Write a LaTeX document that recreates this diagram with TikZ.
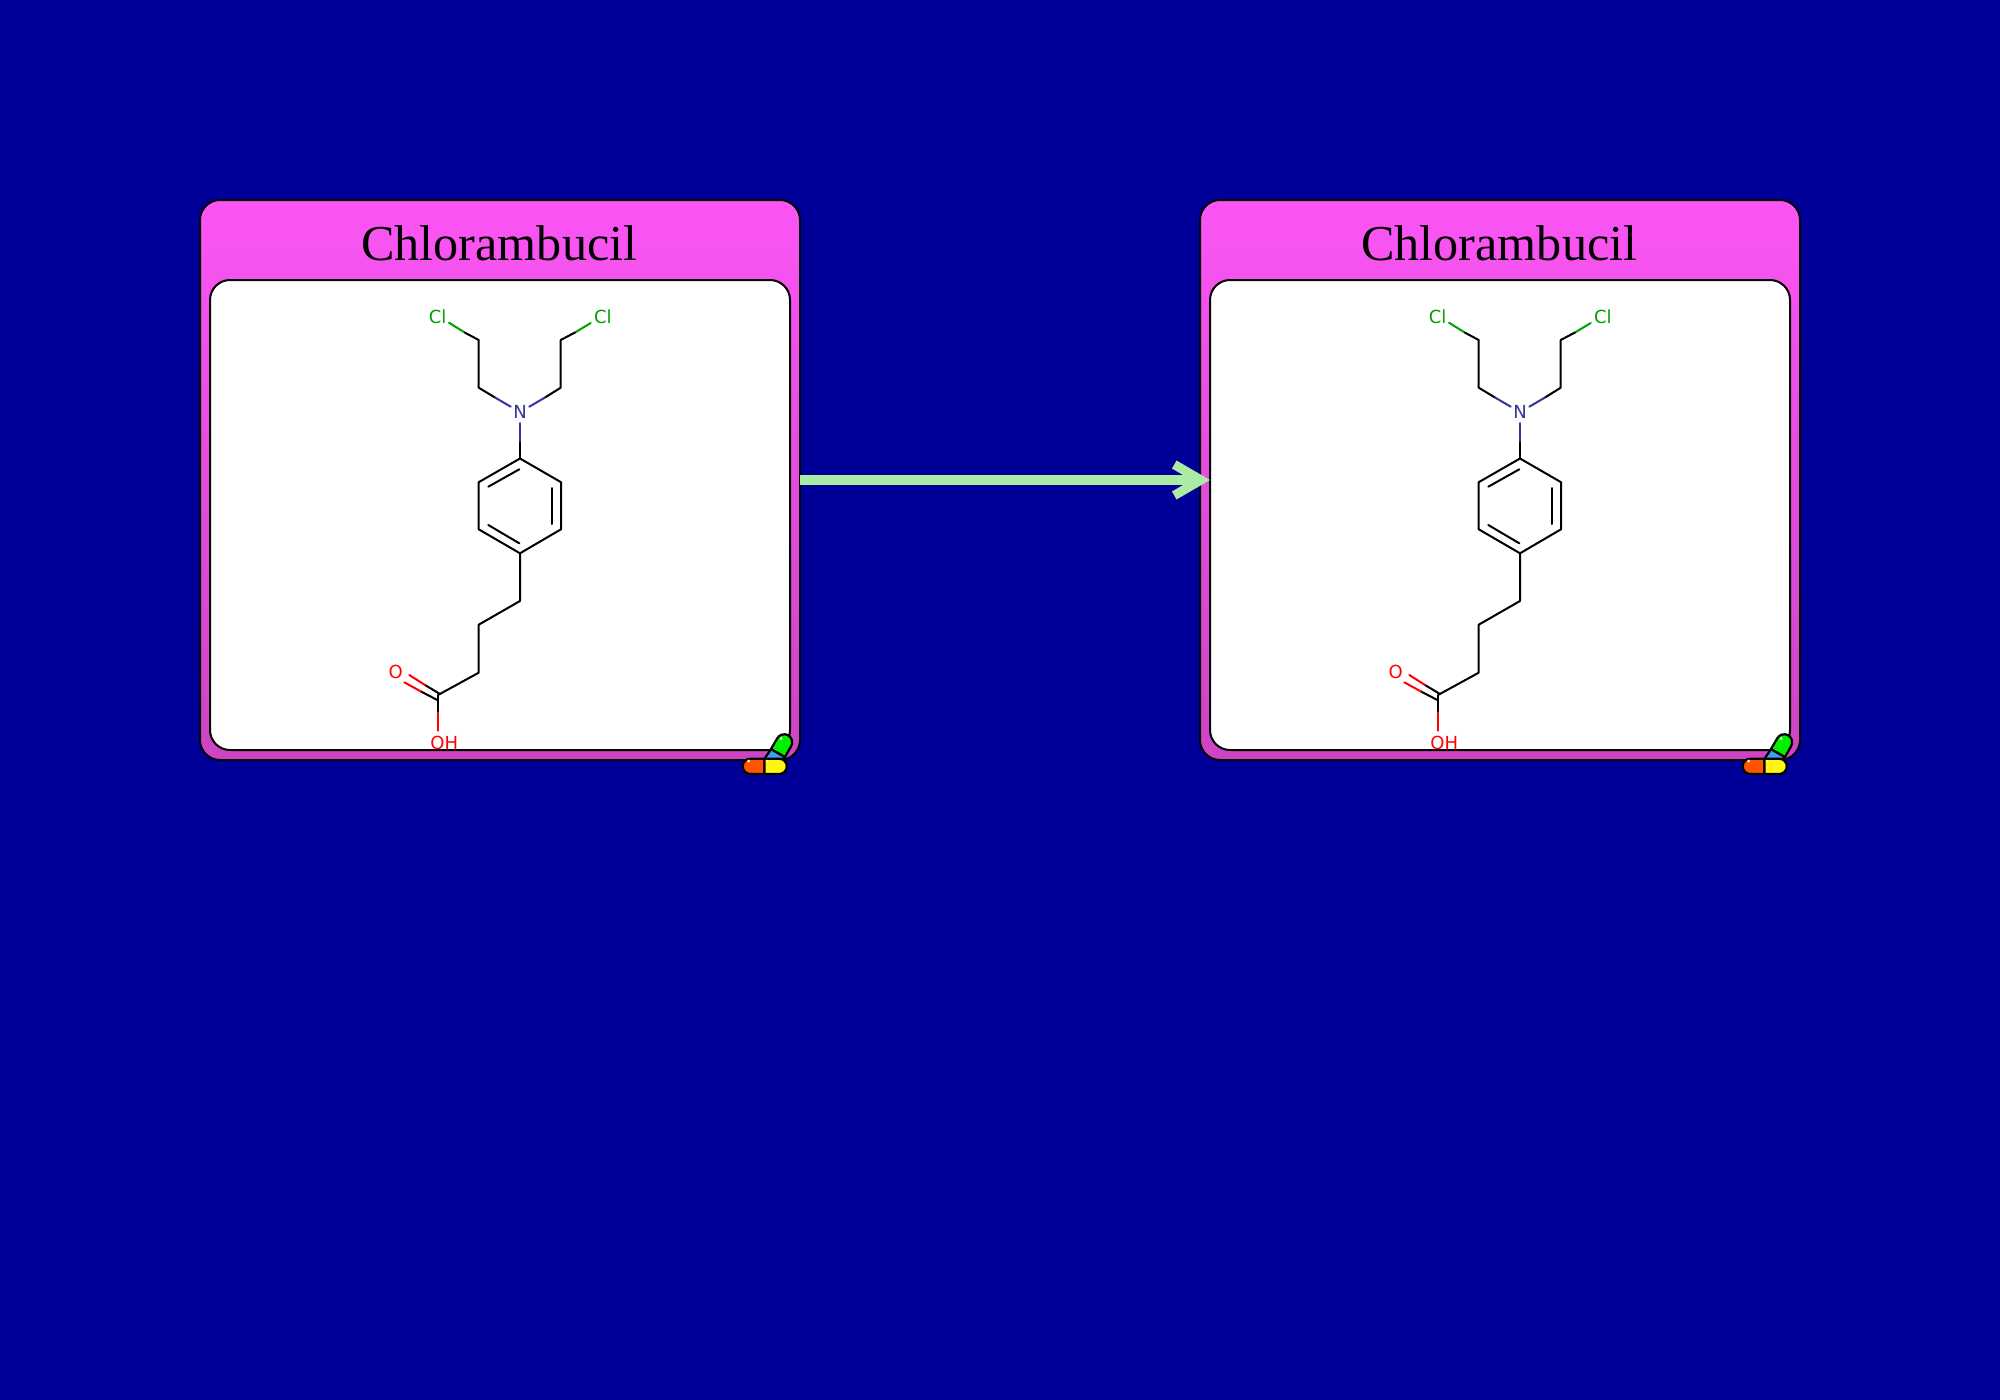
\documentclass[tikz,border=0pt]{standalone}
\usepackage{fontspec}
\setmainfont{Liberation Serif}
\newfontfamily\atomfont{DejaVu Sans}
\usetikzlibrary{arrows.meta}
\definecolor{bgblue}{RGB}{0,0,153}
\definecolor{cardtop}{RGB}{251,85,245}
\definecolor{cardbottom}{RGB}{204,68,196}
\definecolor{arrowgreen}{RGB}{170,235,165}
\definecolor{clgreen}{RGB}{0,160,0}
\definecolor{nblue}{RGB}{51,51,153}
\definecolor{pillred}{RGB}{255,85,0}
\definecolor{pillyellow}{RGB}{255,245,20}
\definecolor{pillgreen}{RGB}{0,240,0}
\definecolor{pillblue}{RGB}{60,160,230}
\pgfdeclarearrow{
  name=Chev,
  setup code={
    \pgfarrowssettipend{0pt}
    \pgfarrowssetlineend{-25pt}
    \pgfarrowssetvisualbackend{-25pt}
    \pgfarrowssetbackend{-38pt}
  },
  drawing code={
    \pgfsetfillcolor{pgfstrokecolor}
    \pgfpathmoveto{\pgfqpoint{0pt}{0pt}}
    \pgfpathlineto{\pgfqpoint{-33.5pt}{19.5pt}}
    \pgfpathlineto{\pgfqpoint{-38pt}{11.5pt}}
    \pgfpathlineto{\pgfqpoint{-27pt}{5pt}}
    \pgfpathlineto{\pgfqpoint{-27pt}{-5pt}}
    \pgfpathlineto{\pgfqpoint{-38pt}{-11.5pt}}
    \pgfpathlineto{\pgfqpoint{-33.5pt}{-19.5pt}}
    \pgfpathclose
    \pgfusepathqfill
  }
}
\tikzset{
  card/.style={draw=black,line width=2pt,rounded corners=20pt,top color=cardtop,bottom color=cardbottom,
    minimum width=600pt,minimum height=560pt,anchor=north west,inner sep=0pt,outer sep=0pt},
  panel/.style={draw=black,line width=2pt,rounded corners=20pt,fill=white,
    minimum width=580pt,minimum height=470pt,anchor=north west,inner sep=0pt,outer sep=0pt},
  titletext/.style={font=\fontsize{50.2pt}{50pt}\selectfont,text=black,anchor=base,inner sep=0pt},
  atom/.style={font=\atomfont\fontsize{18pt}{18pt}\selectfont,inner sep=0pt},
  bond/.style={line width=2pt,line cap=round,line join=round,draw=black},
  flow/.style={line width=10pt,draw=arrowgreen,-{Chev}},
  pilledge/.style={draw=black,line width=2.2pt,line join=round},
  gleam/.style={fill=white,draw=none}
}
\newcommand{\drawcard}[2]{%
\begin{scope}[shift={(#1,0)}]
  \node[card] (card#2) at (200,200) {};
  \node[panel] (panel#2) at (210,280) {};
  \node[titletext] (title#2) at (499.3,260) {Chlorambucil};
  % chains
  \draw[bond,clgreen] (449,322.7) -- (465,332.7);
  \draw[bond] (465,332.7) -- (478.7,340) -- (478.7,387.7) -- (495,397.5);
  \draw[bond,nblue] (495,397.5) -- (510.7,406.7);
  \draw[bond,clgreen] (590.7,323) -- (575,332.5);
  \draw[bond] (575,332.5) -- (560.7,340) -- (560.7,387.7) -- (545,397.5);
  \draw[bond,nblue] (545,397.5) -- (529.3,406.7);
  \draw[bond,nblue] (520,423) -- (520,442.7);
  \draw[bond] (520,442.7) -- (520,458.5);
  % ring
  \draw[bond] (520,458.5) -- (561,482.2) -- (561,529.3) -- (520,553.3) -- (478.7,529.3) -- (478.7,482.2) -- cycle;
  \draw[bond] (519.3,469.3) -- (488.3,486.7);
  \draw[bond] (552.3,488) -- (552.3,524);
  \draw[bond] (488.3,525) -- (519.3,543.3);
  % acid chain
  \draw[bond] (520,553.3) -- (520,601) -- (478.7,624.7) -- (478.7,672.7) -- (438,695);
  \draw[bond] (440,694) -- (425,685);
  \draw[bond,red] (425,685) -- (409.3,675);
  \draw[bond] (437.3,700) -- (421,691.5);
  \draw[bond,red] (421,691.5) -- (404.3,682.3);
  \draw[bond] (437.7,695) -- (437.7,712.7);
  \draw[bond,red] (437.7,712.7) -- (437.7,730.7);
  % atoms
  \node[atom,text=clgreen] (clleft#2) at (437.7,316.5) {Cl};
  \node[atom,text=clgreen] (clright#2) at (602.9,316.5) {Cl};
  \node[atom,text=nblue] (nitrogen#2) at (520,411.5) {N};
  \node[atom,text=red] (oxo#2) at (395.7,672.3) {O};
  \node[atom,text=red] (hydroxyl#2) at (444.3,743.3) {OH};
  % pill icon
  \path[pilledge,fill=pillblue] (764,759.5) -- (771,749) -- (785,757) -- (781,760) -- cycle;
  \path[pilledge,fill=pillgreen] (771,749) -- (777.3,738.2)
     .. controls (779.5,734.4) and (784.4,733.1) .. (788.2,735.3)
     .. controls (792,737.5) and (793.3,742.4) .. (791.1,746.2)
     -- (785,757) -- cycle;
  \path[pilledge,fill=pillred] (764.5,758.7) -- (750.3,758.7)
     .. controls (746.1,758.7) and (742.7,762.1) .. (742.7,766.35)
     .. controls (742.7,770.6) and (746.1,774) .. (750.3,774) -- (764.5,774) -- cycle;
  \path[pilledge,fill=pillyellow] (764.5,758.7) -- (779.2,758.7)
     .. controls (783.4,758.7) and (786.8,762.1) .. (786.8,766.35)
     .. controls (786.8,770.6) and (783.4,774) .. (779.2,774) -- (764.5,774) -- cycle;
  \fill[gleam] (748.7,761) circle (1.5pt);
  \fill[gleam] (781,738.5) circle (1.5pt);
  \fill[gleam] (767,761) circle (1pt);
\end{scope}}
\begin{document}
\begin{tikzpicture}[x=1pt,y=-1pt]
  \useasboundingbox (0,0) rectangle (2000,1400);
  \fill[bgblue] (0,0) rectangle (2000,1400);
  \drawcard{0}{A}
  \drawcard{1000}{B}
  \coordinate (flowlevel) at (1000,480);
  \draw[flow] (cardA.east |- flowlevel) -- (panelB.west |- flowlevel);
\end{tikzpicture}
\end{document}
